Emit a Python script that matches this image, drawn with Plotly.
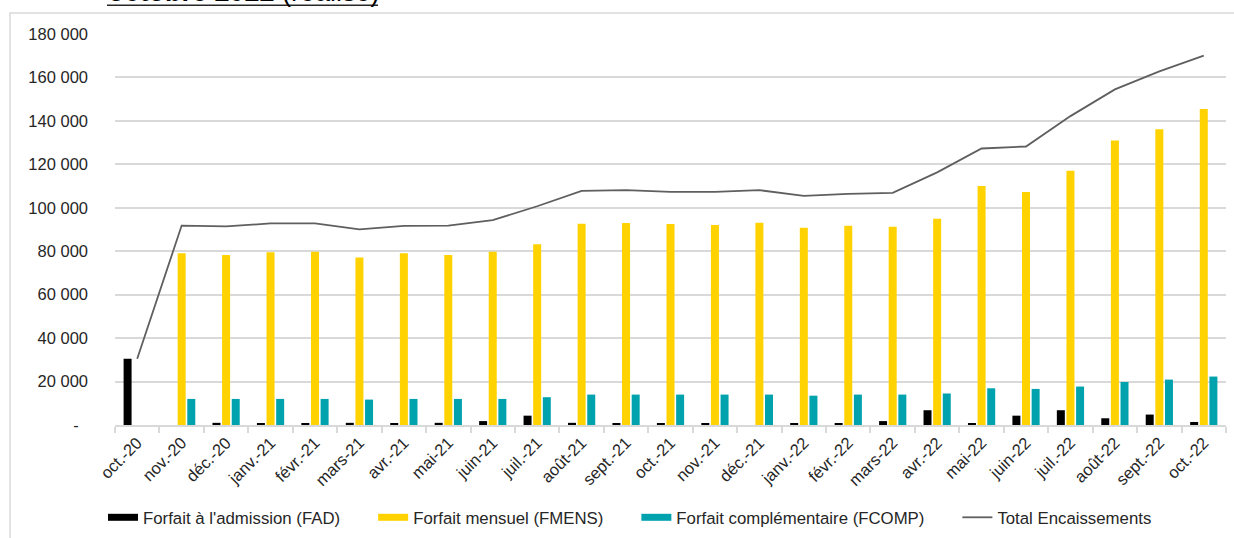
import plotly.graph_objects as go

months = ["oct.-20", "nov.-20", "déc.-20", "janv.-21", "févr.-21", "mars-21", "avr.-21",
          "mai-21", "juin-21", "juil.-21", "août-21", "sept.-21", "oct.-21", "nov.-21",
          "déc.-21", "janv.-22", "févr.-22", "mars-22", "avr.-22", "mai-22", "juin-22",
          "juil.-22", "août-22", "sept.-22", "oct.-22"]

fad = [30500, 0, 1000, 500, 500, 1000, 500, 1000, 1800, 4300, 1000, 500, 500, 500,
       0, 500, 500, 1800, 6800, 500, 4300, 6800, 3100, 4800, 1400]

fmens = [0, 79100, 78300, 79500, 79800, 77100, 79100, 78300, 79800, 83200, 92600, 93000,
         92500, 92100, 93100, 90800, 91700, 91300, 95000, 110000, 107300, 117000, 131000,
         136200, 145500]

fcomp = [0, 12000, 12000, 12000, 12000, 11700, 12000, 12000, 12000, 12800, 14000, 14000,
         14000, 14000, 14000, 13500, 14000, 14000, 14500, 16900, 16600, 17700, 19800,
         20900, 22300]

total = [30500, 91800, 91400, 92800, 92800, 90100, 91700, 91800, 94300, 100700, 107800,
         108100, 107300, 107300, 108100, 105500, 106400, 106900, 116300, 127300, 128200,
         142200, 154500, 162800, 170000]

y_ticks = [0, 20000, 40000, 60000, 80000, 100000, 120000, 140000, 160000, 180000]
y_labels = ["-\u00a0\u00a0", "20 000", "40 000", "60 000", "80 000", "100 000",
            "120 000", "140 000", "160 000", "180 000"]

names = ["Forfait à l'admission (FAD)", "Forfait mensuel (FMENS)",
         "Forfait complémentaire (FCOMP)", "Total Encaissements"]
colors = ["#000000", "#FFD200", "#00A3AD", "#5f5f5f"]

FONT = "Liberation Sans, Arial, sans-serif"
TXT = "#262626"
PAD = "\u00a0" * 6

fig = go.Figure()
for vals, c in zip([fad, fmens, fcomp], colors[:3]):
    fig.add_trace(go.Bar(x=months, y=vals, marker=dict(color=c, line=dict(width=0)),
                         showlegend=False, hoverinfo="x+y"))

fig.add_trace(go.Scatter(x=months, y=total, mode="lines", name=names[3],
                         line=dict(color=colors[3], width=1.8), legendrank=4))

# legend proxies for the bar series (wide rectangular keys)
for i in range(3):
    fig.add_trace(go.Scatter(x=[None], y=[None], mode="lines", name=names[i] + PAD,
                             line=dict(color=colors[i], width=7), legendrank=i + 1,
                             hoverinfo="skip"))

W, H = 1234, 538
# plot area in page pixels
X0, X1, Y0, Y1 = 115, 1226, 34, 425.5
L, T = X0, Y0
R = W - X1
B = H - Y1
pw, ph = X1 - X0, Y1 - Y0

def px(x):
    return (x - X0) / pw

def py(y):
    return (Y1 - y) / ph

fig.update_layout(
    width=W, height=H,
    margin=dict(l=L, r=R, t=T, b=B, autoexpand=False),
    paper_bgcolor="white", plot_bgcolor="white",
    barmode="group", bargap=0.35, bargroupgap=0.17,
    font=dict(family=FONT, size=16.5, color=TXT),
    legend=dict(orientation="h", x=px(103), xanchor="left", y=py(518), yanchor="middle",
                font=dict(family=FONT, size=16.8, color=TXT), bgcolor="rgba(0,0,0,0)",
                traceorder="normal"),
    xaxis=dict(type="category", showline=True, linecolor="#d9d9d9", linewidth=1.5,
               ticks="outside", ticklen=6, tickcolor="#d9d9d9", tickwidth=1.5,
               tickson="boundaries", tickangle=-45, showgrid=False, automargin=False,
               tickfont=dict(family=FONT, size=16.5, color=TXT)),
    yaxis=dict(range=[0, 180000], tickvals=y_ticks, ticktext=y_labels, automargin=False,
               showgrid=True, gridcolor="#d9d9d9", gridwidth=1.5, zeroline=False,
               showline=False, ticks="", ticklabelstandoff=26,
               tickfont=dict(family=FONT, size=16.5, color=TXT)),
    shapes=[dict(type="rect", xref="paper", yref="paper",
                 x0=px(10), x1=px(1250), y0=py(560), y1=py(13),
                 line=dict(color="#d9d9d9", width=1.5), fillcolor="rgba(0,0,0,0)",
                 layer="below"),
            dict(type="line", xref="paper", yref="paper",
                 x0=px(107), x1=px(378), y0=py(5.2), y1=py(5.2),
                 line=dict(color="#262626", width=1.6))],
    annotations=[dict(text="<b>octobre 2022</b> (réalisé)", xref="paper", yref="paper",
                      x=px(106), xanchor="left", y=py(9), yanchor="bottom",
                      showarrow=False, font=dict(family=FONT, size=27, color="#000000"))],
)

fig.write_html("out.html", config={"displayModeBar": False},
               post_script="document.body.style.margin='0';document.body.style.overflow='hidden';")
